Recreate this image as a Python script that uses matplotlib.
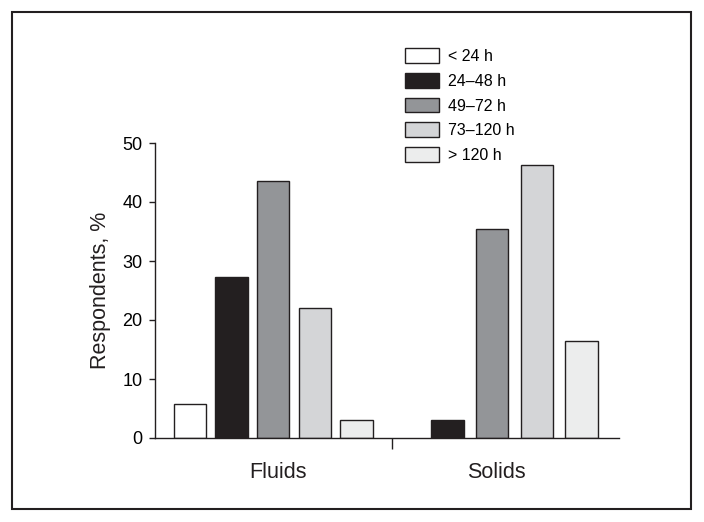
import matplotlib.pyplot as plt
from matplotlib.patches import Patch, Rectangle

plt.rcParams['font.family'] = ['Liberation Sans', 'DejaVu Sans']

groups = ["Fluids", "Solids"]
durations = ["< 24 h", "24\u201348 h", "49\u201372 h", "73\u2013120 h", "> 120 h"]
fluids = [5.7, 27.3, 43.6, 22.0, 3.1]
solids = [0.0, 3.1, 35.5, 46.3, 16.4]
colors = ["#ffffff", "#231f20", "#939598", "#d4d5d7", "#eceded"]

fig = plt.figure(figsize=(7.04, 5.22), dpi=100)
ax = fig.add_axes([155 / 704, 1 - 438 / 522, (619 - 155) / 704, (438 - 143) / 522])

values = [fluids, solids]
width = 0.148
for g, vals in enumerate(values):
    step = 0.19 if g == 0 else 0.204
    for i, v in enumerate(vals):
        if v <= 0:
            continue
        ax.bar(g + (i - 2) * step, v, width=width, color=colors[i],
               edgecolor="#231f20", linewidth=1.0, zorder=2)

ax.set_xlim(-0.54, 1.58)
ax.set_ylim(0, 50)
ax.set_yticks(range(0, 51, 10))
ax.tick_params(axis='y', direction='out', length=4, width=1, labelsize=13,
               color="#231f20", pad=5)
ax.set_xticks([0.543])
ax.set_xticklabels([])
ax.tick_params(axis='x', direction='out', length=8, width=1, color="#231f20")
for g, name in enumerate(groups):
    ax.text(g + 0.02, -0.08, name, transform=ax.get_xaxis_transform(),
            ha='center', va='top', fontsize=15.5, color="#231f20")

for s in ["top", "right"]:
    ax.spines[s].set_visible(False)
for s in ["left", "bottom"]:
    ax.spines[s].set_color("#231f20")
    ax.spines[s].set_linewidth(1.0)

ax.set_ylabel("Respondents, %", fontsize=15.5, color="#231f20", labelpad=8)

handles = [Patch(facecolor=c, edgecolor="#231f20", linewidth=1.0) for c in colors]
fig.legend(handles, durations, loc='upper left', bbox_to_anchor=(391 / 704, 1 - 34 / 522),
           frameon=False, fontsize=11.5, handlelength=2.1, handleheight=1.05,
           handletextpad=0.55, labelspacing=0.55)

fig.patches.append(Rectangle((12 / 704, 1 - 509 / 522), (691 - 12) / 704, (509 - 12) / 522,
                             transform=fig.transFigure, fill=False,
                             edgecolor="#231f20", linewidth=1.5))

fig.savefig("out.png", dpi=100)
